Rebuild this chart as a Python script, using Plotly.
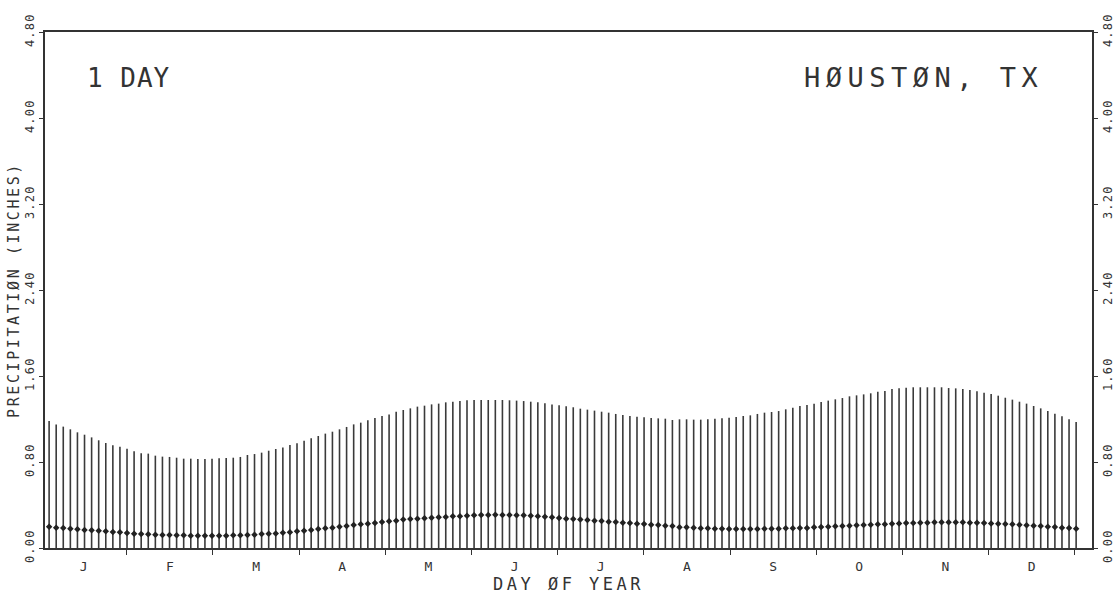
import numpy as np
import plotly.graph_objects as go

# ---------------- data ----------------
months = ["J", "F", "M", "A", "M", "J", "J", "A", "S", "O", "N", "D"]

# top of each vertical line (inches), one line every 2.5 days
top_in = [
    1.181, 1.150, 1.129, 1.104, 1.076, 1.054, 1.029, 1.002, 0.977, 0.955,
    0.943, 0.924, 0.899, 0.881, 0.878, 0.859, 0.850, 0.847, 0.840, 0.831,
    0.831, 0.828, 0.828, 0.831, 0.834, 0.837, 0.840, 0.847, 0.865, 0.874,
    0.887, 0.905, 0.921, 0.936, 0.958, 0.974, 0.998, 1.020, 1.042, 1.064,
    1.082, 1.104, 1.126, 1.150, 1.166, 1.188, 1.209, 1.228, 1.243, 1.268,
    1.284, 1.299, 1.315, 1.324, 1.336, 1.343, 1.355, 1.361, 1.367,
    1.374, 1.377, 1.377, 1.377, 1.377, 1.377, 1.374, 1.371, 1.367, 1.361,
    1.355, 1.346, 1.336, 1.327, 1.318, 1.309, 1.296, 1.287, 1.278, 1.268,
    1.259, 1.247, 1.237, 1.228, 1.222, 1.216, 1.209, 1.206, 1.203, 1.191,
    1.197, 1.197, 1.194, 1.194, 1.197, 1.203, 1.206, 1.212, 1.219, 1.228,
    1.234, 1.247, 1.259, 1.265, 1.274, 1.290, 1.305, 1.321, 1.330, 1.343,
    1.358, 1.371, 1.383, 1.395, 1.411, 1.420, 1.429, 1.439, 1.454, 1.460,
    1.479, 1.485, 1.491, 1.495, 1.495, 1.495, 1.495, 1.495, 1.488, 1.485,
    1.479, 1.470, 1.457, 1.445, 1.433, 1.417, 1.398, 1.380, 1.361, 1.343,
    1.321, 1.299, 1.274, 1.250, 1.225, 1.197, 1.172,
]

# dot value on each line (inches)
dot_in = [
    0.198, 0.189, 0.186, 0.180, 0.174, 0.167, 0.164, 0.161, 0.155, 0.149,
    0.146, 0.140, 0.133, 0.130, 0.127, 0.124, 0.121, 0.121, 0.118, 0.118,
    0.115, 0.115, 0.115, 0.115, 0.115, 0.115, 0.118, 0.118, 0.121, 0.124,
    0.130, 0.133, 0.136, 0.143, 0.146, 0.155, 0.161, 0.167, 0.177, 0.183,
    0.189, 0.198, 0.205, 0.214, 0.220, 0.226, 0.233, 0.242, 0.248, 0.254,
    0.264, 0.270, 0.273, 0.276, 0.282, 0.285, 0.288, 0.295, 0.295,
    0.301, 0.304, 0.307, 0.307, 0.310, 0.307, 0.307, 0.304, 0.304, 0.301,
    0.295, 0.291, 0.285, 0.279, 0.273, 0.270, 0.264, 0.260, 0.254, 0.251,
    0.245, 0.242, 0.236, 0.233, 0.226, 0.223, 0.217, 0.214, 0.208, 0.205,
    0.192, 0.192, 0.189, 0.183, 0.183, 0.180, 0.180, 0.177, 0.177, 0.177,
    0.177, 0.177, 0.180, 0.180, 0.180, 0.183, 0.183, 0.186, 0.186, 0.192,
    0.195, 0.198, 0.202, 0.205, 0.208, 0.211, 0.214, 0.217, 0.220, 0.220,
    0.226, 0.229, 0.233, 0.233, 0.236, 0.236, 0.239, 0.239, 0.239, 0.239,
    0.239, 0.236, 0.236, 0.233, 0.229, 0.226, 0.223, 0.220, 0.217, 0.211,
    0.208, 0.205, 0.198, 0.195, 0.189, 0.186, 0.180,
]

y_tick_vals = [0.0, 0.8, 1.6, 2.4, 3.2, 4.0, 4.8]
y_tick_text = ["0.00", "0.80", "1.60", "2.40", "3.20", "4.00", "4.80"]

first_day = 3.0
step_days = 2.5
days = first_day + step_days * np.arange(len(top_in))

month_len = 365.0 / 12.0
month_bounds = [month_len * k for k in range(1, 13)]
month_centers = [month_len * (k + 0.5) for k in range(12)]

INK = "#333333"
FONT = "DejaVu Sans Mono"

# ---------------- traces ----------------
xs, ys = [], []
for d, t in zip(days, top_in):
    xs += [d, d, None]
    ys += [0.0, t, None]

fig = go.Figure()
fig.add_trace(go.Scatter(
    x=xs, y=ys, mode="lines",
    line=dict(color="#3a3a3a", width=1.6),
    hoverinfo="skip", showlegend=False,
))
fig.add_trace(go.Scatter(
    x=days, y=dot_in, mode="markers",
    marker=dict(symbol="diamond", size=5, color="#222222"),
    showlegend=False, yaxis="y2",
))


def spaced(txt, px):
    return f"<span style='letter-spacing:{px}px'>{txt}</span>"


ytxt = [spaced(t, 1.2) for t in y_tick_text]

fig.update_layout(
    width=1114, height=598,
    margin=dict(l=45, r=22, t=32, b=50),
    paper_bgcolor="white", plot_bgcolor="white",
    font=dict(family=FONT, color=INK),
    xaxis=dict(
        range=[1.55, 371.1],
        showline=True, linecolor=INK, linewidth=1.5, mirror=True,
        showgrid=False, zeroline=False,
        tickmode="array", tickvals=month_centers, ticktext=months,
        ticks="outside", ticklen=6, tickcolor="rgba(0,0,0,0)",
        tickfont=dict(size=13, color=INK),
        minor=dict(tickmode="array", tickvals=month_bounds, ticks="outside",
                   ticklen=5, tickwidth=1.2, tickcolor=INK, showgrid=False),
        title=dict(text=spaced("DAY ØF YEAR", 3.5), font=dict(size=17, color=INK),
                   standoff=0),
        automargin=False,
    ),
    yaxis=dict(
        range=[0, 4.8],
        showline=True, linecolor=INK, linewidth=1.5,
        showgrid=False, zeroline=False,
        tickmode="array", tickvals=y_tick_vals, ticktext=ytxt,
        ticks="outside", ticklen=4, tickwidth=1.2, tickcolor=INK,
        tickangle=-90, tickfont=dict(size=12, color=INK),
        title=dict(text=spaced("PRECIPITATIØN (INCHES)", 2.6),
                   font=dict(size=15, color=INK), standoff=0),
        automargin=False,
    ),
    yaxis2=dict(
        range=[0, 4.8], overlaying="y", side="right", anchor="x",
        showline=True, linecolor=INK, linewidth=1.5,
        showgrid=False, zeroline=False,
        tickmode="array", tickvals=y_tick_vals, ticktext=ytxt,
        ticks="outside", ticklen=4, tickwidth=1.2, tickcolor=INK,
        tickangle=-90, tickfont=dict(size=12, color=INK),
        automargin=False,
    ),
    annotations=[
        dict(text=spaced("1 DAY", 1), xref="paper", yref="paper",
             x=0.038, y=0.911, xanchor="left", yanchor="middle",
             showarrow=False, font=dict(size=26, color=INK)),
        dict(text=spaced("HØUSTØN, TX", 5.5), xref="paper", yref="paper",
             x=0.955, y=0.911, xanchor="right", yanchor="middle",
             showarrow=False, font=dict(size=27, color=INK)),
    ],
)

fig.write_html(
    "out.html",
    config={"displayModeBar": False},
    post_script="document.body.style.margin='0';document.body.style.overflow='hidden';",
)
